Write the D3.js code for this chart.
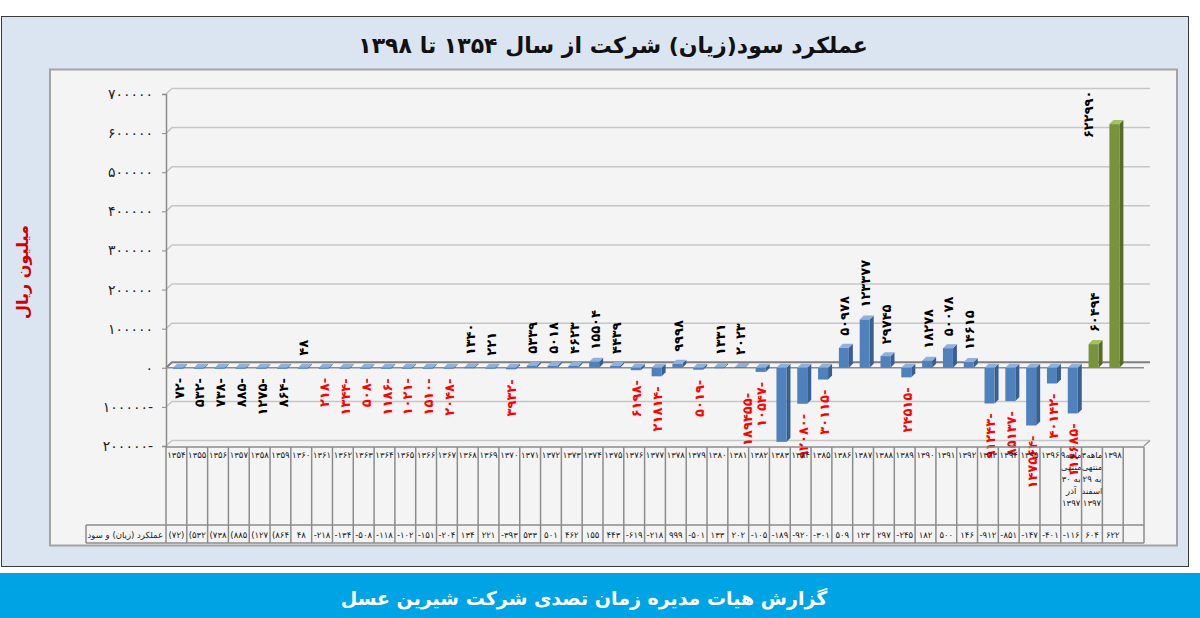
<!DOCTYPE html>
<html>
<head>
<meta charset="utf-8">
<script src="https://cdn.jsdelivr.net/npm/d3@7"></script>
<style>
  body { margin: 0; background: #fff; }
  svg { display: block; font-family: "DejaVu Sans", sans-serif; }
</style>
</head>
<body>
<svg id="chart"></svg>
<script>
// chart data (million rials)
const categories = [
  '۱۳۵۴', '۱۳۵۵', '۱۳۵۶', '۱۳۵۷', '۱۳۵۸', '۱۳۵۹', '۱۳۶۰', '۱۳۶۱', '۱۳۶۲', '۱۳۶۳',
  '۱۳۶۴', '۱۳۶۵', '۱۳۶۶', '۱۳۶۷', '۱۳۶۸', '۱۳۶۹', '۱۳۷۰', '۱۳۷۱', '۱۳۷۲', '۱۳۷۳',
  '۱۳۷۴', '۱۳۷۵', '۱۳۷۶', '۱۳۷۷', '۱۳۷۸', '۱۳۷۹', '۱۳۸۰', '۱۳۸۱', '۱۳۸۲', '۱۳۸۳',
  '۱۳۸۴', '۱۳۸۵', '۱۳۸۶', '۱۳۸۷', '۱۳۸۸', '۱۳۸۹', '۱۳۹۰', '۱۳۹۱', '۱۳۹۲', '۱۳۹۳',
  '۱۳۹۴', '۱۳۹۵', '۱۳۹۶',
  '۹ماهه منتهی به ۳۰ آذر ۱۳۹۷',
  '۳ماهه منتهی به ۲۹ اسفند ۱۳۹۷',
  '۱۳۹۸', ''
];
const profit = [
  -72, -532, -738, -885, -1275, -864, 48, -218, -1344, -508,
  -1186, -1021, -1510, -2048, 1340, 221, -3932, 5339, 5018, 4623,
  15504, 4439, -6198, -21814, 9998, -5019, 1331, 2023, -10547, -189455,
  -92080, -30115, 50978, 123377, 29745, -24515, 18278, 50078, 14615, -91243,
  -85137, -147564, -40142,
  -116685,
  60494,
  622990, null
];
// the last periods are drawn in the second (green) colour
const greenCategories = ['۳ماهه منتهی به ۲۹ اسفند ۱۳۹۷', '۱۳۹۸'];
const yTicks = [-200000, -100000, 0, 100000, 200000, 300000, 400000, 500000, 600000, 700000];

const title = 'عملکرد سود(زیان) شرکت از سال ۱۳۵۴ تا ۱۳۹۸';
const yTitle = 'میلیون ریال';
const rowTitle = 'عملکرد (زیان) و سود';
const footer = 'گزارش هیات مدیره زمان تصدی شرکت شیرین عسل';

const fa = s => String(s).replace(/\d/g, d => '۰۱۲۳۴۵۶۷۸۹'[+d]);

const W = 1200, H = 618;
const svg = d3.select('#chart').attr('width', W).attr('height', H);

// frame and panels
svg.append('rect')
  .attr('x', 1.5).attr('y', 16.5).attr('width', 1187).attr('height', 550)
  .attr('fill', '#dbe5f1').attr('stroke', '#3a3a3a');
svg.append('rect')
  .attr('x', 50).attr('y', 69.5).attr('width', 1127).attr('height', 476)
  .attr('fill', '#f4f4f4').attr('stroke', '#a3a3a3').attr('stroke-width', 2);

svg.append('text')
  .attr('x', 613).attr('y', 53)
  .attr('text-anchor', 'middle').attr('direction', 'rtl')
  .attr('font-size', 22).attr('font-weight', 'bold').attr('fill', '#111')
  .text(title);

svg.append('text')
  .attr('transform', 'translate(28,272) rotate(-90)')
  .attr('text-anchor', 'middle').attr('direction', 'rtl')
  .attr('font-size', 16).attr('font-weight', 'bold').attr('fill', '#d10000')
  .text(yTitle);

// footer band
svg.append('rect')
  .attr('x', 0).attr('y', 573).attr('width', W).attr('height', H - 573)
  .attr('fill', '#00a3e4');
svg.append('text')
  .attr('x', 584).attr('y', 605)
  .attr('text-anchor', 'middle').attr('direction', 'rtl')
  .attr('font-size', 19).attr('font-weight', 'bold').attr('fill', '#fff')
  .text(footer);

// scales
const idx = d3.range(categories.length);
const x = d3.scaleBand().domain(idx).range([166, 1144]);
const y = d3.scaleLinear().domain([-200000, 700000]).range([446, 94]);
const step = x.step();
const wallDx = 6, wallDy = 5.5;
const barW = 10, barOff = 7, depth = 4;

// back wall grid lines
const grid = svg.append('g');
yTicks.forEach(t => {
  const yy = y(t);
  grid.append('path')
    .attr('d', `M166,${yy}L${166 + wallDx},${yy - wallDy}L${1144 + wallDx},${yy - wallDy}`)
    .attr('fill', 'none')
    .attr('stroke', t === 0 ? '#7f7f7f' : '#c6c6c6')
    .attr('stroke-width', t === 0 ? 2 : 1.5);
});
// floor edges
svg.append('line')
  .attr('x1', 166).attr('x2', 1144).attr('y1', y(0)).attr('y2', y(0))
  .attr('stroke', '#8c8c8c').attr('stroke-width', 1.5);
svg.append('line')
  .attr('x1', 1144).attr('y1', y(-200000)).attr('x2', 1144 + wallDx).attr('y2', y(-200000) - wallDy)
  .attr('stroke', '#9a9a9a').attr('stroke-width', 1.5);

// y axis
const yAxis = d3.axisLeft(y)
  .tickValues(yTicks)
  .tickSize(4)
  .tickPadding(9)
  .tickFormat(d => d < 0 ? fa(-d) + '-' : fa(d));
const yAxisG = svg.append('g')
  .attr('transform', 'translate(166,0)')
  .call(yAxis);
yAxisG.select('.domain').attr('stroke', '#8a8a8a').attr('stroke-width', 1.5);
yAxisG.selectAll('.tick line').attr('stroke', '#8a8a8a');
yAxisG.selectAll('.tick text')
  .attr('font-size', 14).attr('fill', '#222')
  .attr('font-family', '"DejaVu Sans", sans-serif');

// 3d bars
const colors = {
  blue: { front: '#4f81bd', side: '#395f91', top: '#8fb1dc' },
  green: { front: '#77933c', side: '#566d29', top: '#a6c163' }
};
const bars = svg.append('g');
idx.forEach(i => {
  const v = profit[i];
  if (v === null) return;
  const c = greenCategories.includes(categories[i]) ? colors.green : colors.blue;
  const fx = x(i) + barOff;
  const top = y(Math.max(v, 0));
  let bot = y(Math.min(v, 0));
  if (bot - top < 1) bot = top + 1;
  bars.append('path')
    .attr('d', `M${fx + barW},${top}L${fx + barW + depth},${top - depth}L${fx + barW + depth},${bot - depth}L${fx + barW},${bot}Z`)
    .attr('fill', c.side);
  bars.append('path')
    .attr('d', `M${fx},${top}L${fx + depth},${top - depth}L${fx + barW + depth},${top - depth}L${fx + barW},${top}Z`)
    .attr('fill', c.top);
  bars.append('rect')
    .attr('x', fx).attr('y', top).attr('width', barW).attr('height', bot - top)
    .attr('fill', c.front);
});

// data labels, rotated
const labels = svg.append('g')
  .attr('font-size', 13).attr('font-weight', 'bold');
const topLimit = 80, bottomLimit = 500;
idx.forEach(i => {
  const v = profit[i];
  if (v === null) return;
  const cx = x(i) + barOff + barW / 2 + 1;
  const str = v < 0 ? fa(-v) + '-' : fa(v);
  const t = labels.append('text')
    .attr('dy', '0.35em')
    .attr('fill', v < 0 && i > 6 ? '#ff0000' : '#000')
    .text(str);
  const len = t.node().getComputedTextLength();
  let lx = cx, ly, anchor;
  if (v >= 0) {
    ly = y(v) - 12;
    anchor = 'start';
    if (ly - len < topLimit) { // no room above: put it beside the bar
      lx = cx - step * 1.3;
      ly = y(v) + 14;
    }
  } else {
    ly = y(v) + 10;
    anchor = 'end';
    if (ly + len > bottomLimit) { // no room below: pull it up beside the bar
      lx = cx - step * 1.7;
      ly = y(v) + 4 - len;
    }
  }
  t.attr('text-anchor', anchor)
    .attr('transform', `translate(${lx},${ly}) rotate(-90)`);
});

// data table below the chart
const tTop = y(-200000) + 1, tMid = 525, tBot = 543, rowLeft = 86;
const table = svg.append('g');
const measurer = svg.append('text').attr('font-size', 8.5).attr('visibility', 'hidden');
const measure = s => measurer.text(s).node().getComputedTextLength();

function wrapLines(str, maxW) {
  const lines = [];
  let cur = '';
  str.split(' ').forEach(w => {
    const tryLine = cur ? cur + ' ' + w : w;
    if (measure(tryLine) <= maxW) { cur = tryLine; return; }
    if (cur) lines.push(cur);
    let part = '';
    for (const ch of w) {
      if (part && measure(part + ch) > maxW) { lines.push(part); part = ch; }
      else part += ch;
    }
    cur = part;
  });
  if (cur) lines.push(cur);
  return lines;
}

// the narrow cells only show the first characters of a long value
function fitText(s, maxW) {
  let out = s;
  while (out.length > 1 && measure(out) > maxW) out = out.slice(0, -1);
  return out;
}

idx.forEach(i => {
  const x0 = x(i);
  // header text
  const lines = wrapLines(categories[i], step + 3);
  const ht = table.append('text')
    .attr('x', x0 + step / 2).attr('y', tTop + 11)
    .attr('text-anchor', 'middle').attr('font-size', 8.5).attr('fill', '#222');
  lines.forEach((ln, k) => {
    ht.append('tspan').attr('x', x0 + step / 2).attr('dy', k === 0 ? 0 : 12).text(ln);
  });
  // value text
  const v = profit[i];
  if (v === null) return;
  const vs = i < 6 ? '(' + fa(Math.abs(v)) + ')' : (v < 0 ? '-' + fa(-v) : fa(v));
  table.append('text')
    .attr('x', x0 + step / 2).attr('y', tBot - 5)
    .attr('text-anchor', 'middle')
    .attr('font-size', 8.5).attr('fill', '#222')
    .text(fitText(vs, step - 3));
});
measurer.remove();

table.append('text')
  .attr('x', 163).attr('y', tBot - 5)
  .attr('text-anchor', 'end')
  .attr('font-size', 8.5).attr('fill', '#222')
  .text(rowTitle);

const gridColor = '#8c8c8c';
idx.concat([categories.length]).forEach(i => {
  const xx = i < categories.length ? x(i) : 1144;
  table.append('line')
    .attr('x1', xx).attr('x2', xx).attr('y1', tTop).attr('y2', tBot)
    .attr('stroke', gridColor).attr('stroke-width', 1.5);
});
[[166, tTop], [rowLeft, tMid], [rowLeft, tBot]].forEach(([x1, yy]) => {
  table.append('line')
    .attr('x1', x1).attr('x2', 1144).attr('y1', yy).attr('y2', yy)
    .attr('stroke', gridColor).attr('stroke-width', 1.5);
});
table.append('line')
  .attr('x1', rowLeft).attr('x2', rowLeft).attr('y1', tMid).attr('y2', tBot)
  .attr('stroke', gridColor).attr('stroke-width', 1.5);
</script>
</body>
</html>
